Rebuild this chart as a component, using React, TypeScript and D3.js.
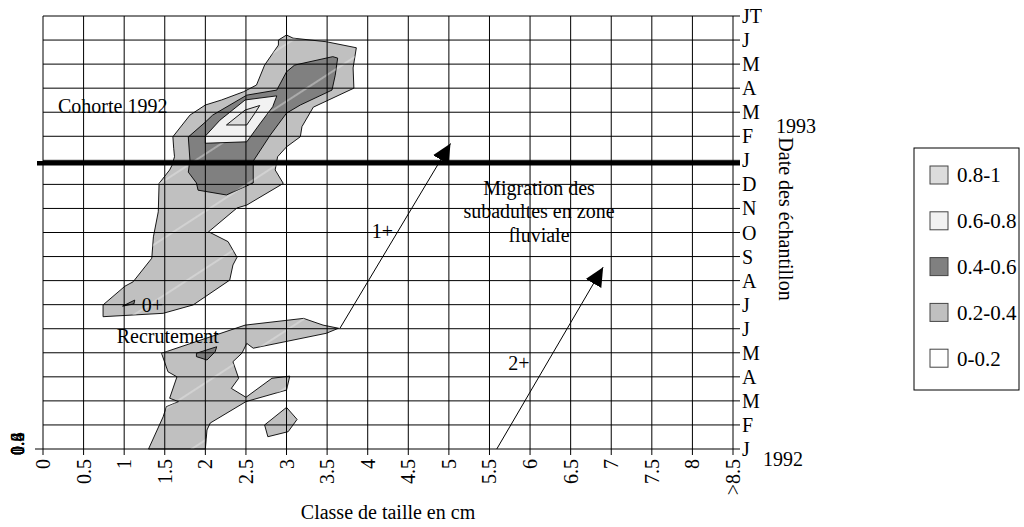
import { useMemo } from "react";
import * as d3 from "d3";

const SIZE_TICKS = [0, 0.5, 1, 1.5, 2, 2.5, 3, 3.5, 4, 4.5, 5, 5.5, 6, 6.5, 7, 7.5, 8, 8.5];
const SIZE_LABELS = ["0", "0.5", "1", "1.5", "2", "2.5", "3", "3.5", "4", "4.5", "5", "5.5", "6", "6.5", "7", "7.5", "8", ">8.5"];
// sampling dates, bottom (Jan 1992) to top
const MONTHS = ["J", "F", "M", "A", "M", "J", "J", "A", "S", "O", "N", "D", "J", "F", "M", "A", "M", "J", "JT"];
const YEAR_ROWS = [0, 12];
const LEGEND_LABELS = ["0.8-1", "0.6-0.8", "0.4-0.6", "0.2-0.4", "0-0.2"];
const LEGEND_COLORS = ["#dcdcdc", "#f2f2f2", "#808080", "#c0c0c0", "#ffffff"];
const Z_LABELS = ["0", "0.2", "0.4", "0.6", "0.8", "1"];

// contour outlines: [size class cm, month index]
const COHORT_02 = [[3.0, 17.21], [3.08, 17.08], [3.49, 16.93], [3.86, 16.68], [3.82, 15.84], [3.83, 15.0], [3.33, 14.21], [3.19, 13.4], [3.17, 12.98], [3.0, 12.56], [2.89, 12.15], [2.86, 11.6], [2.96, 11.04], [2.51, 10.14], [2.39, 10.02], [2.04, 9.03], [2.28, 8.62], [2.39, 7.97], [2.34, 7.65], [2.3, 7.02], [1.85, 5.99], [1.48, 5.64], [0.74, 5.5], [0.74, 5.99], [1.01, 6.77], [1.11, 6.95], [1.34, 7.93], [1.36, 8.82], [1.42, 9.86], [1.43, 11.04], [1.56, 11.6], [1.59, 11.8], [1.62, 12.15], [1.61, 12.5], [1.6, 12.98], [1.81, 13.88], [2.0, 14.3], [2.2, 14.51], [2.47, 14.85], [2.63, 15.13], [2.73, 15.96], [2.9, 16.79], [2.9, 17.0]];
const COHORT_04 = [[3.57, 16.31], [3.63, 16.25], [3.6, 15.54], [3.56, 14.92], [3.17, 14.3], [3.0, 13.96], [2.8, 13.05], [2.59, 11.97], [2.59, 11.06], [2.26, 10.56], [1.91, 10.76], [1.89, 11.06], [1.79, 11.51], [1.81, 12.01], [1.79, 12.97], [2.0, 13.59], [2.09, 13.88], [2.51, 14.71], [2.88, 14.92], [3.0, 15.68], [3.1, 15.96]];
const COHORT_06 = [[2.0, 13.01], [2.18, 13.67], [2.49, 14.51], [2.88, 14.68], [2.83, 14.23], [2.67, 13.51], [2.51, 12.77], [2.0, 12.71]];
const COHORT_08 = [[2.26, 13.47], [2.49, 14.09], [2.67, 14.28], [2.61, 13.96], [2.51, 13.47]];
const SPOT_04 = [[0.98, 5.94], [1.13, 6.19], [1.12, 6.03]];
const RECRUIT_02 = [[1.46, 3.98], [2.49, 5.15], [3.21, 5.43], [3.45, 5.15], [3.64, 5.02], [3.49, 4.81], [2.59, 4.19], [2.51, 4.39], [2.45, 3.98], [2.34, 3.63], [2.41, 2.94], [2.32, 2.52], [2.5, 2.15], [2.82, 2.94], [3.04, 3.03], [3.0, 2.45], [2.5, 1.97], [2.06, 1.08], [2.02, 0.79], [2.0, 0.0], [1.3, 0.0], [1.48, 1.34], [1.52, 1.76], [1.67, 1.97], [1.56, 2.11], [1.65, 3.0], [1.54, 3.21]];
const RECRUIT_04 = [[1.89, 3.98], [2.14, 4.25], [2.12, 4.04], [2.02, 3.7], [1.89, 3.84]];
const ISLAND_02 = [[2.73, 1.0], [3.0, 1.73], [3.13, 1.23], [3.02, 0.72], [2.77, 0.51]];

const CONTOURS = [
  { pts: COHORT_02, color: "#c0c0c0" },
  { pts: RECRUIT_02, color: "#c0c0c0" },
  { pts: ISLAND_02, color: "#c0c0c0" },
  { pts: COHORT_04, color: "#808080" },
  { pts: RECRUIT_04, color: "#808080" },
  { pts: SPOT_04, color: "#808080" },
  { pts: COHORT_06, color: "#f2f2f2" },
  { pts: COHORT_08, color: "#dcdcdc" },
];

// migration arrows 1+ and 2+
const ARROW_FROM = [[3.66, 5.03], [5.59, 0]];
const ARROW_TO = [[5.02, 12.7], [6.9, 7.56]];

const FONT = "'Liberation Serif', 'Times New Roman', serif";

export default function App() {
  const x = useMemo(() => d3.scaleLinear().domain([0, 8.5]).range([43, 733]), []);
  const y = useMemo(() => d3.scaleLinear().domain([0, 18]).range([449, 16]), []);

  const area = d3
    .line<number[]>()
    .x((d) => x(d[0]))
    .y((d) => y(d[1]))
    .curve(d3.curveLinearClosed);

  const rows = d3.range(MONTHS.length);

  return (
    <svg
      width={1024}
      height={527}
      style={{ position: "absolute", left: 0, top: 0, background: "#fff" }}
      fontFamily={FONT}
    >
      <defs>
        <marker
          id="head"
          markerUnits="userSpaceOnUse"
          markerWidth={22}
          markerHeight={22}
          viewBox="0 -11 22 22"
          refX={19}
          refY={0}
          orient="auto"
        >
          <path d="M0,-9L19,0L0,9Z" fill="#000" />
        </marker>
        <pattern
          id="streak"
          patternUnits="userSpaceOnUse"
          width={60}
          height={48}
          patternTransform="rotate(-33)"
        >
          <line x1={0} y1={1} x2={60} y2={1} stroke="#ececec" strokeWidth={0.8} />
        </pattern>
      </defs>

      {/* contour bands */}
      {CONTOURS.map((c, i) => (
        <g key={i}>
          <path d={area(c.pts) ?? ""} fill={c.color} stroke="#000" strokeWidth={0.9} />
          {c.color !== "#f2f2f2" && c.color !== "#dcdcdc" && (
            <path d={area(c.pts) ?? ""} fill="url(#streak)" stroke="none" />
          )}
        </g>
      ))}

      {/* grid */}
      {SIZE_TICKS.map((t) => (
        <line key={"v" + t} x1={x(t)} x2={x(t)} y1={y(18)} y2={y(0) + 6} stroke="#000" strokeWidth={1} />
      ))}
      {rows.map((r) => (
        <line key={"h" + r} x1={x(0)} x2={x(8.5) + 7} y1={y(r)} y2={y(r)} stroke="#000" strokeWidth={1} />
      ))}
      <line x1={x(0) - 8} x2={x(0)} y1={y(0)} y2={y(0)} stroke="#000" strokeWidth={1} />

      {/* year separator */}
      <line
        x1={x(0) - 6}
        x2={x(8.5) + 7}
        y1={y(YEAR_ROWS[1]) + 3}
        y2={y(YEAR_ROWS[1]) + 3}
        stroke="#000"
        strokeWidth={4.5}
      />

      {/* arrows */}
      {ARROW_FROM.map((f, i) => (
        <line
          key={"a" + i}
          x1={x(f[0])}
          y1={y(f[1])}
          x2={x(ARROW_TO[i][0])}
          y2={y(ARROW_TO[i][1])}
          stroke="#000"
          strokeWidth={1}
          markerEnd="url(#head)"
        />
      ))}

      {/* x tick labels */}
      {SIZE_TICKS.map((t, i) => (
        <text
          key={"xl" + t}
          transform={`translate(${x(t)},${y(0) + 10}) rotate(-90)`}
          textAnchor="end"
          dy="0.35em"
          fontSize={20}
        >
          {SIZE_LABELS[i]}
        </text>
      ))}

      {/* stacked z labels left */}
      {Z_LABELS.map((z) => (
        <text
          key={"z" + z}
          transform={`translate(18,${y(0) + 6}) rotate(-90)`}
          dy="0.35em"
          fontSize={18}
        >
          {z}
        </text>
      ))}

      {/* month labels right */}
      {MONTHS.map((m, i) => (
        <text key={"m" + i} x={x(8.5) + 9} y={y(i)} dy="0.35em" fontSize={20}>
          {m}
        </text>
      ))}
      <text x={763} y={y(YEAR_ROWS[0]) + 17} fontSize={20}>1992</text>
      <text x={776} y={y(YEAR_ROWS[1]) - 27} fontSize={20}>1993</text>
      <text transform="translate(779,219) rotate(90)" textAnchor="middle" fontSize={20}>
        Date des échantillon
      </text>

      <text x={388} y={519} textAnchor="middle" fontSize={20}>
        Classe de taille en cm
      </text>

      {/* annotations */}
      <text x={x(0.185)} y={y(13.95)} fontSize={20}>Cohorte 1992</text>
      <text x={x(1.215)} y={y(5.69)} fontSize={20}>0+</text>
      <text x={x(0.908)} y={y(4.39)} fontSize={20}>Recrutement</text>
      <text x={x(4.05)} y={y(8.77)} fontSize={20}>1+</text>
      <text x={x(5.73)} y={y(3.28)} fontSize={20}>2+</text>
      <text textAnchor="middle" fontSize={20}>
        <tspan x={x(6.11)} y={y(10.56)}>Migration des</tspan>
        <tspan x={x(6.11)} y={y(9.6)}>subadultes en zone</tspan>
        <tspan x={x(6.11)} y={y(8.62)}>fluviale</tspan>
      </text>

      {/* legend */}
      <rect x={914} y={148} width={105} height={242} fill="#fff" stroke="#000" strokeWidth={1} />
      {LEGEND_LABELS.map((l, i) => (
        <g key={l} transform={`translate(930,${175 + i * 45.8})`}>
          <rect x={0} y={-9} width={18} height={18} fill={LEGEND_COLORS[i]} stroke="#444" strokeWidth={1} />
          <text x={27} y={0} dy="0.35em" fontSize={21}>
            {l}
          </text>
        </g>
      ))}
    </svg>
  );
}
